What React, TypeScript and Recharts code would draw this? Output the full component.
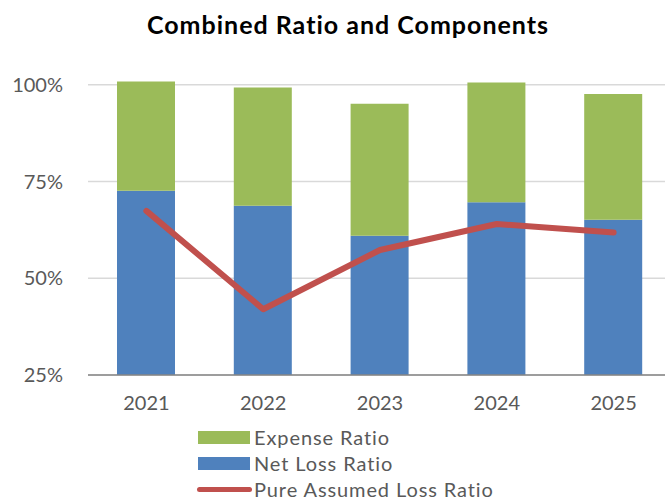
import { Bar, CartesianGrid, ComposedChart, Legend, Line, XAxis, YAxis } from "recharts";

const years = ["2021", "2022", "2023", "2024", "2025"];
const netLossRatio = [72.6, 68.7, 61.0, 69.6, 65.1];
const expenseRatio = [28.2, 30.6, 34.1, 31.0, 32.5];
const pureAssumedLossRatio = [67.4, 42.0, 57.3, 64.0, 61.8];
const yTicks = [25, 50, 75, 100];

const data = years.map((year, i) => ({
    year,
    net: netLossRatio[i],
    expense: expenseRatio[i],
    pure: pureAssumedLossRatio[i],
}));

const FONT = "Lato, 'Open Sans', sans-serif";
const GREEN = "#9BBB59";
const BLUE = "#4F81BD";
const RED = "#C0504D";
const TEXT = "#595959";

const legendItems = [
    { label: "Expense Ratio", color: GREEN, type: "rect" },
    { label: "Net Loss Ratio", color: BLUE, type: "rect" },
    { label: "Pure Assumed Loss Ratio", color: RED, type: "line" },
];

const LegendBox = () => (
    <div style={{ fontFamily: FONT, fontSize: 20, letterSpacing: 0.9, color: TEXT }}>
        {legendItems.map((item) => (
            <div key={item.label} style={{ display: "flex", alignItems: "center", height: 26 }}>
                <div style={{ width: 56, display: "flex", justifyContent: "center" }}>
                    {item.type === "rect" ? (
                        <div style={{ width: 52, height: 13, background: item.color }} />
                    ) : (
                        <div style={{ width: 55, height: 5, borderRadius: 3, background: item.color }} />
                    )}
                </div>
                <span style={{ marginLeft: 2, lineHeight: "26px", whiteSpace: "nowrap" }}>{item.label}</span>
            </div>
        ))}
    </div>
);

const App = () => {
    return (
        <div style={{ position: "absolute", top: 0, left: 0, width: 665, height: 497, overflow: "hidden", background: "#fff" }}>
            <div
                style={{
                    position: "absolute",
                    top: 9,
                    left: 0,
                    width: 696,
                    textAlign: "center",
                    fontFamily: FONT,
                    fontWeight: 700,
                    fontSize: 25,
                    letterSpacing: 1,
                    color: "#000",
                }}
            >
                Combined Ratio and Components
            </div>
            <ComposedChart
                width={672}
                height={497}
                data={data}
                margin={{ top: 46, right: 0, bottom: 92, left: 0 }}
                style={{ position: "absolute", top: 0, left: 0 }}
            >
                <CartesianGrid vertical={false} horizontalValues={yTicks} stroke="#D9D9D9" strokeWidth={1.5} />
                <XAxis
                    dataKey="year"
                    height={30}
                    tickLine={false}
                    tickSize={0}
                    tickMargin={21}
                    axisLine={{ stroke: "#868686", strokeWidth: 1.5 }}
                    tick={{ fill: TEXT, fontSize: 20, fontFamily: FONT }}
                />
                <YAxis
                    width={88}
                    domain={[25, 110]}
                    ticks={yTicks}
                    allowDataOverflow
                    axisLine={false}
                    tickLine={false}
                    tickSize={0}
                    tickMargin={25}
                    tickFormatter={(v) => `${v}%`}
                    tick={{ fill: TEXT, fontSize: 20, fontFamily: FONT }}
                />
                <Legend
                    layout="vertical"
                    align="center"
                    verticalAlign="middle"
                    wrapperStyle={{ top: 424, left: 196, width: 340 }}
                    content={() => <LegendBox />}
                />
                <Bar dataKey="net" stackId="a" fill={BLUE} barSize={58} isAnimationActive={false} />
                <Bar dataKey="expense" stackId="a" fill={GREEN} barSize={58} isAnimationActive={false} />
                <Line
                    dataKey="pure"
                    type="linear"
                    stroke={RED}
                    strokeWidth={6}
                    strokeLinecap="round"
                    strokeLinejoin="round"
                    dot={false}
                    activeDot={false}
                    isAnimationActive={false}
                />
            </ComposedChart>
        </div>
    );
};

export default App;
